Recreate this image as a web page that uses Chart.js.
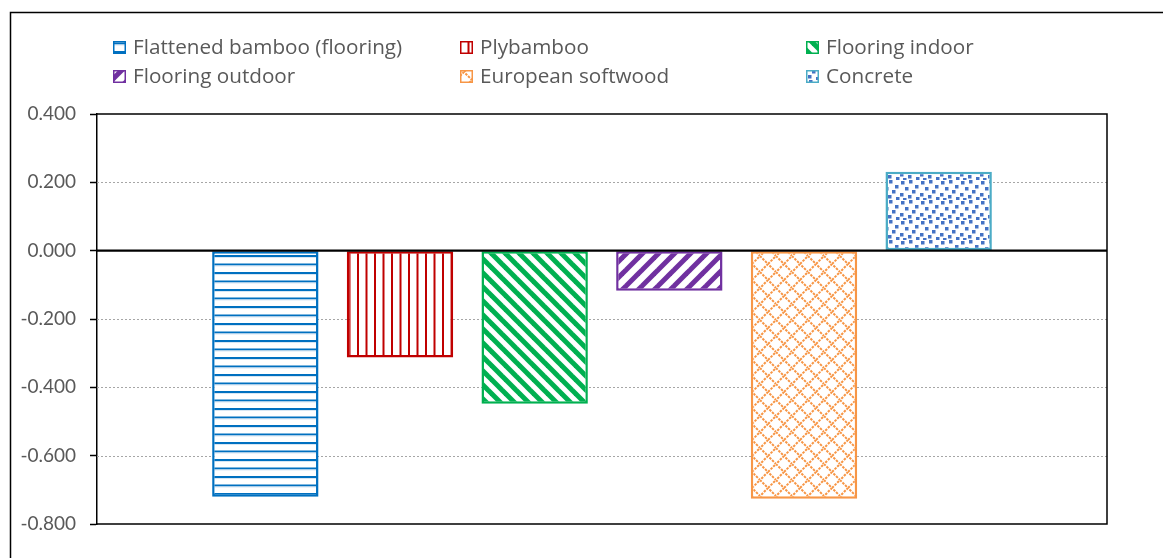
<!DOCTYPE html>
<html>
<head>
<meta charset="utf-8">
<script src="https://cdn.jsdelivr.net/npm/chart.js@4.4.1/dist/chart.umd.min.js"></script>
<style>
  body { margin: 0; background: #fff; }
  #wrap { position: relative; width: 1163px; height: 558px; }
</style>
</head>
<body>
<div id="wrap"><canvas id="chart" width="1163" height="558"></canvas></div>
<script>
// Series data
let categories = [""];
let seriesNames = ["Flattened bamboo (flooring)", "Plybamboo", "Flooring indoor",
                   "Flooring outdoor", "European softwood", "Concrete"];
let seriesValues = [-0.720, -0.313, -0.448, -0.117, -0.726, 0.231];
let yTicks = [0.4, 0.2, 0, -0.2, -0.4, -0.6, -0.8];

let lineColors = ["#0070C0", "#C00000", "#00B050", "#7030A0", "#F79646", "#4BACC6"];
let TICK_FONT = "Lato, 'Open Sans', sans-serif";
let LEGEND_FONT = "'Open Sans', Lato, sans-serif";

// Build small repeating fill patterns like the office hatch fills
function makeTile(w, h, draw) {
    let c = document.createElement("canvas");
    c.width = w; c.height = h;
    let g = c.getContext("2d");
    g.fillStyle = "#fff";
    g.fillRect(0, 0, w, h);
    draw(g, w, h);
    return c;
}

let tiles = [
    // horizontal lines
    makeTile(17, 17, (g, w, h) => {
        g.fillStyle = "#0070C0";
        g.fillRect(0, 0, w, 2);
        g.fillRect(0, 8.5, w, 2);
        g.fillStyle = "#d7e6f3";
        g.fillRect(0, 2, w, 1);
        g.fillRect(0, 10.5, w, 1);
    }),
    // vertical lines
    makeTile(17, 17, (g, w, h) => {
        g.fillStyle = "#C00000";
        g.fillRect(0, 0, 2, h);
        g.fillRect(8.5, 0, 2, h);
    }),
    // wide downward diagonal
    makeTile(14, 14, (g, w, h) => {
        g.strokeStyle = "#00B050";
        g.lineWidth = 5;
        for (let k = -1; k <= 1; k++) {
            g.beginPath();
            g.moveTo(k * w - 2, -2);
            g.lineTo(k * w + w + 2, h + 2);
            g.stroke();
        }
    }),
    // wide upward diagonal
    makeTile(16, 16, (g, w, h) => {
        g.strokeStyle = "#7030A0";
        g.lineWidth = 5;
        for (let k = -1; k <= 1; k++) {
            g.beginPath();
            g.moveTo(k * w - 2, h + 2);
            g.lineTo(k * w + w + 2, -2);
            g.stroke();
        }
    }),
    // dotted diamond lattice
    makeTile(16, 16, (g, w, h) => {
        g.strokeStyle = "#F79646";
        g.lineWidth = 2;
        g.setLineDash([2.5, 1.2]);
        g.beginPath();
        g.moveTo(0, h / 2); g.lineTo(w / 2, 0); g.lineTo(w, h / 2);
        g.lineTo(w / 2, h); g.closePath();
        g.stroke();
    }),
    // confetti squares
    makeTile(20, 20, (g, w, h) => {
        g.fillStyle = "#4472C4";
        let pts = [[1, 1], [9, 0], [15, 5], [5, 7], [12, 10], [0, 13], [8, 15], [16, 17], [3, 18]];
        pts.forEach(p => g.fillRect(p[0], p[1], 3.5, 3.5));
    })
];

let ctx = document.getElementById("chart").getContext("2d");
let patterns = tiles.map(t => ctx.createPattern(t, "repeat"));

// Gridlines, frame and zero line
let framePlugin = {
    id: "frame",
    beforeDatasetsDraw(chart) {
        let a = chart.chartArea, y = chart.scales.y, c = chart.ctx;
        c.save();
        c.strokeStyle = "#A6A6A6";
        c.lineWidth = 1;
        c.setLineDash([2, 2]);
        yTicks.forEach(v => {
            if (v === 0 || v === 0.4 || v === -0.8) return;
            let py = Math.round(y.getPixelForValue(v)) + 0.5;
            c.beginPath(); c.moveTo(a.left, py); c.lineTo(a.right, py); c.stroke();
        });
        c.restore();
    },
    afterDatasetsDraw(chart) {
        let a = chart.chartArea, y = chart.scales.y, c = chart.ctx;
        c.save();
        c.strokeStyle = "#000";
        c.lineWidth = 1.5;
        let top = y.getPixelForValue(0.4), bot = y.getPixelForValue(-0.8);
        c.beginPath();
        c.moveTo(a.left, top); c.lineTo(a.right, top);
        c.lineTo(a.right, bot); c.lineTo(a.left, bot);
        c.stroke();
        let zy = y.getPixelForValue(0);
        c.lineWidth = 2.2;
        c.beginPath(); c.moveTo(a.left, zy); c.lineTo(a.right, zy); c.stroke();
        // outer frame
        c.lineWidth = 1.5;
        c.beginPath(); c.moveTo(10.5, 558); c.lineTo(10.5, 12.5); c.lineTo(1163, 12.5); c.stroke();
        c.restore();
    }
};

// Legend laid out in three fixed columns
let legendPlugin = {
    id: "gridLegend",
    afterDraw(chart) {
        let c = chart.ctx;
        let colX = [113, 460, 806];
        let rowY = [47, 76];
        c.save();
        c.font = "20.7px " + LEGEND_FONT;
        c.textBaseline = "middle";
        seriesNames.forEach((name, i) => {
            let x = colX[i % 3], yy = rowY[Math.floor(i / 3)];
            c.fillStyle = patterns[i];
            c.fillRect(x, yy - 6, 13, 13);
            c.strokeStyle = lineColors[i];
            c.lineWidth = 1.5;
            c.strokeRect(x + 0.75, yy - 5.25, 11.5, 11.5);
            c.fillStyle = "#595959";
            c.fillText(name, x + 20, yy + 1);
        });
        c.restore();
    }
};

new Chart(ctx, {
    type: "bar",
    data: {
        labels: categories,
        datasets: seriesNames.map((name, i) => ({
            label: name,
            data: [seriesValues[i]],
            backgroundColor: patterns[i],
            borderColor: lineColors[i],
            borderWidth: 2.5,
            borderSkipped: false,
            categoryPercentage: 0.8,
            barPercentage: 0.79
        }))
    },
    options: {
        responsive: false,
        animation: false,
        layout: { padding: { left: 0, right: 56, top: 114, bottom: 34 } },
        plugins: {
            legend: { display: false },
            tooltip: { enabled: false }
        },
        scales: {
            x: { display: false },
            y: {
                min: -0.8,
                max: 0.4,
                afterFit(scale) { scale.width = 97; },
                afterBuildTicks(scale) {
                    scale.ticks = yTicks.slice().reverse().map(v => ({ value: v }));
                },
                ticks: {
                    padding: 14,
                    color: "#595959",
                    font: { family: TICK_FONT, size: 19 },
                    callback: v => v.toFixed(3)
                },
                grid: {
                    drawOnChartArea: false,
                    drawTicks: true,
                    tickLength: 7,
                    tickColor: "#000",
                    tickWidth: 1.5
                },
                border: { display: true, color: "#000", width: 1.5 }
            }
        }
    },
    plugins: [framePlugin, legendPlugin]
});
</script>
</body>
</html>
